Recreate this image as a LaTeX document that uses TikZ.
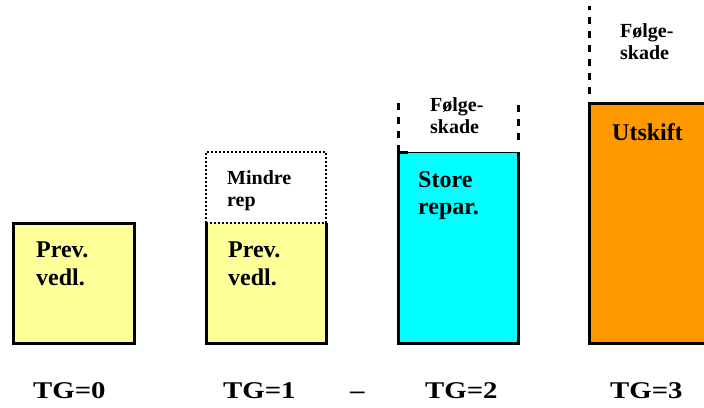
\documentclass[tikz,border=0pt]{standalone}
\usepackage{fontspec}
\setmainfont{Liberation Serif}
\newfontfamily\tgfont[FakeStretch=1.2,Ligatures=TeX]{Liberation Serif}
\definecolor{paleyellow}{RGB}{255,255,153}
\definecolor{boxcyan}{RGB}{0,255,255}
\definecolor{boxorange}{RGB}{255,153,0}
\begin{document}
\begin{tikzpicture}[x=1pt,y=-1pt,
  lbl/.style={font=\bfseries\fontsize{24}{27.5}\selectfont, align=left, anchor=north west, inner sep=0pt},
  small/.style={font=\bfseries\fontsize{20}{22.5}\selectfont, align=left, anchor=north west, inner sep=0pt},
  tg/.style={font=\tgfont\bfseries\fontsize{24}{26}\selectfont, anchor=base west, inner sep=0pt},
  thick border/.style={line width=3pt},
  dashline/.style={line width=3pt, dash pattern=on 7pt off 7pt},
  dotline/.style={line width=2pt, dash pattern=on 2pt off 2pt}]
\clip (0,0) rectangle (704,407);
\fill[white] (0,0) rectangle (704,407);
% box 1
\filldraw[fill=paleyellow, thick border] (13,223) rectangle (134,343);
\node[lbl] (t1) at (36,242) {Prev.\\vedl.};
% box 2
\fill[paleyellow] (206,223) rectangle (326,343);
\draw[thick border] (206,223) -- (206,343) -- (326,343) -- (326,223);
\draw[dotline] (206,223) -- (206,152) -- (326,152) -- (326,223) -- cycle;
\node[small] (m2) at (227,170) {Mindre\\rep};
\node[lbl] (t2) at (228,242) {Prev.\\vedl.};
% box 3
\fill[boxcyan] (398,152) rectangle (518,343);
\draw[thick border] (398,152) -- (398,343) -- (518,343) -- (518,152);
\draw[line width=1pt] (398,152) -- (518,152);
\draw[thick border] (398,152) -- (408,152);
\draw[dashline] (398,152) -- (398,101);
\draw[dashline] (518,140) -- (518,101);
\node[small] (f3) at (430,97) {Følge-\\skade};
\node[lbl] (s3) at (418,171) {Store\\repar.};
% box 4
\filldraw[fill=boxorange, thick border] (589,103) rectangle (720,343);
\draw[dashline] (589,94) -- (589,6);
\node[small] (f4) at (620,23) {Følge-\\skade};
\node[lbl] (u4) at (612,123) {Utskift};
% labels
\node[tg] (g0) at (33,398) {TG=0};
\node[tg] (g1) at (223,398) {TG=1};
\node[tg] (dash) at (350,398) {–};
\node[tg] (g2) at (425,398) {TG=2};
\node[tg] (g3) at (610,398) {TG=3};
\end{tikzpicture}
\end{document}
